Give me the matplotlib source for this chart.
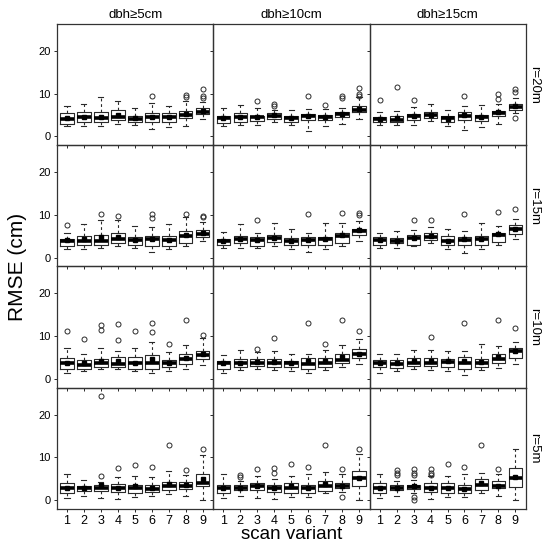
import matplotlib
matplotlib.use('Agg')
import matplotlib.pyplot as plt

plt.rcParams['font.family'] = ['Liberation Sans', 'DejaVu Sans']

variants = [1, 2, 3, 4, 5, 6, 7, 8, 9]
col_labels = ['dbh\u22655cm', 'dbh\u226510cm', 'dbh\u226515cm']
row_labels = ['r=20m', 'r=15m', 'r=10m', 'r=5m']

# each box: (whisker low, q1, median, q3, whisker high, mean)
r20_d5 = [(2.3, 2.9, 4.0, 5.4, 7.0, 4.3), (2.3, 3.3, 4.5, 5.7, 7.6, 4.5),
          (2.5, 3.3, 4.2, 5.7, 9.1, 4.6), (2.9, 3.7, 4.6, 6.2, 8.3, 5.0),
          (2.6, 3.3, 4.0, 4.7, 6.6, 4.2), (1.7, 3.3, 4.5, 5.4, 7.9, 4.6),
          (2.1, 3.3, 4.5, 5.4, 7.1, 4.5), (2.5, 4.2, 5.1, 6.0, 8.2, 5.3),
          (4.0, 5.3, 5.8, 6.6, 8.1, 6.0)]
r20_d5_out = [[], [], [], [], [], [9.4], [], [9.6, 9.1], [11.0, 9.5, 9.0]]
r20_d10 = [(2.5, 3.1, 4.3, 4.8, 6.7, 4.3), (2.6, 3.3, 4.5, 5.4, 7.4, 4.6),
           (2.6, 3.6, 4.5, 4.8, 6.6, 4.5), (3.3, 4.1, 4.8, 5.4, 6.2, 5.0),
           (2.7, 3.3, 4.2, 4.7, 6.2, 4.2), (1.3, 3.7, 4.7, 5.2, 6.5, 4.7),
           (2.3, 3.7, 4.5, 5.0, 6.5, 4.5), (2.9, 4.5, 5.3, 5.7, 6.6, 5.3),
           (4.0, 5.6, 6.2, 7.0, 9.1, 6.4)]
r20_d10_out = [[], [], [8.3], [7.6, 7.0], [], [9.5], [7.3], [9.5, 9.0], [11.2, 9.9, 9.5]]
r20_d15 = [(2.6, 3.3, 4.0, 4.5, 5.8, 4.1), (2.6, 3.4, 3.9, 4.7, 6.0, 4.2),
           (2.7, 3.7, 4.7, 5.2, 6.8, 4.7), (3.5, 4.3, 5.0, 5.8, 7.5, 5.1),
           (2.3, 3.3, 4.2, 4.8, 6.1, 4.1), (1.4, 3.7, 4.8, 5.6, 7.0, 5.0),
           (2.2, 3.6, 4.5, 5.1, 7.3, 4.5), (2.9, 4.7, 5.4, 6.0, 7.5, 5.6),
           (5.5, 6.2, 6.8, 7.5, 9.0, 7.0)]
r20_d15_out = [[8.4], [11.5], [8.4], [], [], [9.5], [], [9.8, 8.8], [11.0, 10.4, 4.3]]

r15_d5 = [(2.1, 2.7, 3.9, 4.4, 5.7, 4.1), (2.1, 2.9, 3.9, 5.0, 7.9, 4.3),
          (2.2, 2.9, 3.8, 5.3, 8.9, 4.7), (2.7, 3.3, 4.4, 5.7, 8.9, 4.9),
          (2.2, 2.9, 4.0, 4.9, 7.5, 4.1), (1.3, 2.7, 4.3, 5.0, 7.2, 4.4),
          (1.9, 2.7, 4.0, 5.0, 7.8, 4.1), (2.7, 3.3, 5.0, 6.2, 9.5, 5.2),
          (3.9, 4.9, 5.6, 6.4, 8.3, 5.8)]
r15_d5_out = [[7.7], [], [10.2], [9.8], [], [10.1, 9.3], [], [10.3], [9.8, 9.4]]
r15_d10 = [(2.2, 2.9, 3.9, 4.4, 6.0, 3.9), (2.3, 3.3, 4.3, 5.0, 7.8, 4.3),
           (2.3, 2.7, 4.1, 4.8, 5.8, 4.1), (2.7, 3.6, 4.6, 5.2, 8.0, 4.6),
           (2.1, 2.9, 3.9, 4.6, 6.6, 3.9), (1.2, 2.9, 4.1, 4.8, 5.8, 4.1),
           (1.9, 2.9, 4.3, 4.9, 8.1, 4.3), (2.7, 3.5, 5.0, 5.8, 8.0, 5.3),
           (3.9, 5.2, 6.2, 6.7, 8.5, 6.4)]
r15_d10_out = [[], [], [8.9], [], [], [10.1], [], [10.5], [10.5, 10.0]]
r15_d15 = [(2.2, 2.9, 4.1, 4.7, 5.7, 4.1), (2.3, 3.3, 3.9, 4.6, 6.2, 3.9),
           (2.6, 3.0, 4.6, 5.3, 6.4, 4.6), (3.3, 4.0, 4.9, 5.8, 7.2, 5.1),
           (2.1, 2.9, 3.9, 5.0, 6.6, 3.9), (1.0, 3.0, 4.1, 4.9, 6.2, 4.3),
           (2.1, 2.9, 4.4, 5.0, 8.0, 4.4), (2.9, 3.6, 5.3, 5.8, 7.4, 5.5),
           (4.3, 5.4, 6.6, 7.6, 9.1, 6.7)]
r15_d15_out = [[], [], [8.9], [8.8], [], [10.1], [], [10.6], [11.4]]

r10_d5 = [(1.3, 2.2, 3.6, 4.8, 7.3, 3.8), (1.8, 2.3, 3.2, 4.5, 5.9, 3.6),
          (2.2, 2.7, 3.6, 4.6, 7.3, 4.2), (2.3, 2.7, 3.5, 5.0, 6.5, 4.2),
          (1.8, 2.3, 3.6, 5.2, 7.1, 3.8), (1.3, 2.3, 3.6, 5.5, 8.5, 4.6),
          (1.9, 2.7, 3.7, 4.5, 6.2, 3.8), (2.3, 3.5, 4.6, 5.8, 7.9, 4.8),
          (3.2, 4.6, 5.6, 6.5, 9.5, 5.9)]
r10_d5_out = [[11.3], [9.4], [12.7, 11.4], [12.8, 9.1], [11.3], [13.1, 10.9], [8.1], [13.8], [10.3]]
r10_d10 = [(1.4, 2.3, 3.7, 4.2, 5.5, 3.7), (2.1, 2.7, 3.7, 4.6, 6.7, 3.8),
           (2.3, 2.9, 3.8, 4.6, 6.3, 4.0), (2.1, 2.7, 3.7, 4.6, 6.5, 4.0),
           (1.9, 2.7, 3.7, 4.2, 5.9, 3.7), (1.3, 2.3, 3.5, 4.8, 5.9, 4.2),
           (2.1, 2.8, 3.8, 4.8, 6.7, 4.1), (2.7, 3.6, 4.5, 5.9, 7.9, 5.0),
           (3.5, 4.8, 5.8, 6.9, 9.2, 5.9)]
r10_d10_out = [[], [], [7.0], [9.6], [], [13.1], [8.2], [13.8], [11.1]]
r10_d15 = [(1.4, 2.7, 3.7, 4.4, 5.8, 3.7), (1.8, 2.6, 3.5, 4.4, 5.8, 3.6),
           (2.3, 2.9, 3.8, 4.8, 6.7, 4.1), (2.1, 2.9, 3.8, 4.8, 6.8, 4.1),
           (1.9, 2.7, 4.0, 4.6, 6.4, 4.1), (1.0, 2.3, 3.6, 5.2, 6.4, 4.1),
           (2.1, 2.7, 3.8, 4.6, 8.1, 4.0), (2.6, 3.8, 4.6, 5.9, 7.7, 5.2),
           (3.5, 4.8, 6.5, 7.1, 8.5, 6.5)]
r10_d15_out = [[], [], [], [9.8], [], [13.1], [], [13.8], [11.9]]

r5_d5 = [(0.5, 1.6, 2.8, 3.9, 6.2, 2.8), (0.9, 2.2, 2.7, 3.3, 4.7, 2.8),
         (0.5, 2.2, 2.9, 3.5, 4.3, 3.5), (0.2, 1.9, 2.7, 3.7, 5.4, 2.9),
         (0.6, 1.6, 2.9, 3.5, 5.7, 3.2), (0.9, 1.8, 2.6, 3.6, 5.3, 2.8),
         (1.4, 2.4, 3.3, 4.3, 6.8, 3.7), (1.0, 2.6, 3.3, 4.3, 5.8, 3.5),
         (0.1, 3.3, 4.0, 6.2, 10.5, 4.9)]
r5_d5_out = [[], [], [24.4, 5.7], [7.6], [8.2], [7.8], [12.9], [7.0], [11.9]]
r5_d10 = [(0.5, 1.6, 2.7, 3.5, 6.2, 2.7), (0.9, 2.3, 2.9, 3.5, 4.5, 2.9),
          (0.5, 2.3, 3.2, 3.9, 5.7, 3.2), (0.2, 1.9, 2.8, 3.5, 4.9, 2.8),
          (0.6, 1.6, 2.9, 4.0, 5.7, 3.2), (0.6, 1.6, 2.7, 3.5, 6.2, 2.7),
          (1.6, 2.2, 3.3, 4.5, 6.6, 3.7), (1.8, 2.9, 3.2, 4.1, 6.0, 3.3),
          (0.1, 3.3, 5.1, 6.8, 10.7, 5.1)]
r5_d10_out = [[], [5.8, 5.3], [7.2], [7.6, 6.4], [8.4], [7.8], [12.9], [7.2, 0.6], [11.9]]
r5_d15 = [(0.5, 1.6, 2.8, 3.9, 6.2, 2.8), (0.9, 2.4, 2.9, 3.5, 4.5, 2.9),
          (1.6, 2.6, 3.1, 3.6, 4.7, 3.2), (0.2, 1.9, 2.9, 3.9, 5.7, 2.9),
          (0.6, 1.6, 2.9, 3.9, 5.7, 2.9), (0.6, 1.6, 2.6, 3.5, 6.2, 2.6),
          (1.6, 2.3, 3.5, 4.9, 6.4, 4.0), (0.9, 2.9, 3.3, 4.5, 6.0, 3.3),
          (0.1, 3.1, 5.2, 7.4, 11.9, 5.3)]
r5_d15_out = [[], [7.0, 6.4, 5.8], [7.2, 6.4, 5.8, 0.6, 0.1], [7.2, 6.3, 5.8], [8.4], [7.8], [12.9], [7.2], []]

panels = [[(r20_d5, r20_d5_out), (r20_d10, r20_d10_out), (r20_d15, r20_d15_out)],
          [(r15_d5, r15_d5_out), (r15_d10, r15_d10_out), (r15_d15, r15_d15_out)],
          [(r10_d5, r10_d5_out), (r10_d10, r10_d10_out), (r10_d15, r10_d15_out)],
          [(r5_d5, r5_d5_out), (r5_d10, r5_d10_out), (r5_d15, r5_d15_out)]]

edge = '#2a2a2a'

fig = plt.figure(figsize=(5.5, 5.48), dpi=100)
gs = fig.add_gridspec(4, 3, left=0.1036, right=0.9564, top=0.9562, bottom=0.0712,
                      wspace=0, hspace=0)

for i in range(4):
    for j in range(3):
        ax = fig.add_subplot(gs[i, j])
        # transparent so outward ticks of the panel above stay visible
        ax.patch.set_visible(False)
        boxes, outs = panels[i][j]
        stats = []
        for b, o in zip(boxes, outs):
            stats.append({'whislo': b[0], 'q1': b[1], 'med': b[2], 'q3': b[3],
                          'whishi': b[4], 'mean': b[5], 'fliers': o})
        ax.bxp(stats, positions=variants, widths=0.8, capwidths=0.3,
               showmeans=True, patch_artist=False,
               boxprops=dict(color=edge, linewidth=0.8),
               whiskerprops=dict(color=edge, linewidth=0.8, linestyle=(0, (2.5, 2.5))),
               capprops=dict(color=edge, linewidth=0.8),
               medianprops=dict(color='black', linewidth=2.6),
               meanprops=dict(marker='s', markerfacecolor='black',
                              markeredgecolor='black', markersize=3.2),
               flierprops=dict(marker='o', markerfacecolor='none',
                               markeredgecolor=edge, markersize=3.6,
                               markeredgewidth=0.7))
        ax.set_xlim(0.41, 9.63)
        ax.set_ylim(-2.1, 26.3)
        ax.set_yticks([0, 10, 20])
        ax.set_xticks(variants)
        ax.tick_params(direction='out', length=2.5, width=0.7, color=edge,
                       pad=2, labelsize=8)
        ax.tick_params(axis='x', labelsize=9)
        for s in ax.spines.values():
            s.set_color('#333333')
            s.set_linewidth(0.9)
        if j == 0:
            ax.set_yticklabels(['0', '10', '20'])
        else:
            ax.set_yticklabels([])
        if i == 3:
            ax.set_xticklabels([str(v) for v in variants])
        else:
            ax.set_xticklabels([])
        if i == 0:
            ax.set_title(col_labels[j], fontsize=9.5, pad=4)
        if j == 2:
            ax.text(1.012, 0.5, row_labels[i], transform=ax.transAxes,
                    rotation=-90, va='center', ha='left', fontsize=9.5)

fig.text(0.031, 0.5135, 'RMSE (cm)', rotation=90, va='center', ha='center', fontsize=15)
fig.text(0.53, 0.025, 'scan variant', va='center', ha='center', fontsize=13.5)

fig.savefig('out.png', dpi=100, facecolor='white')
